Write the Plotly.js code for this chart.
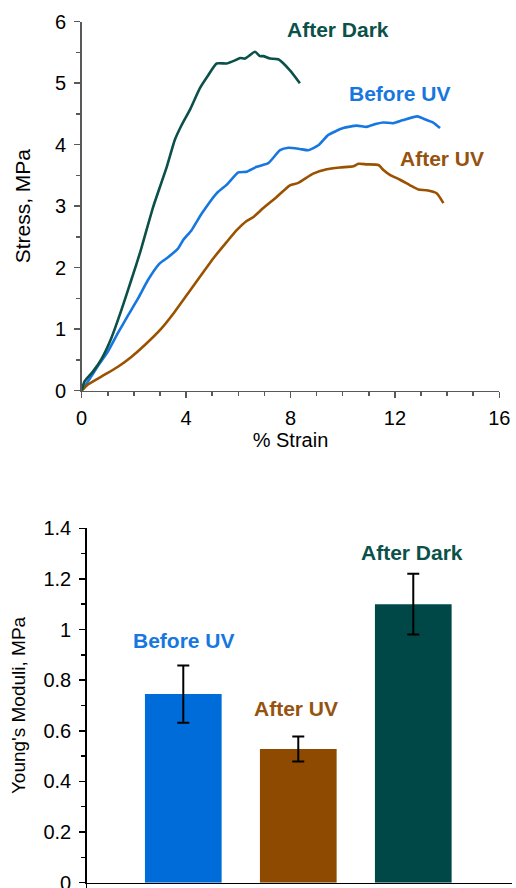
<!DOCTYPE html>
<html><head><meta charset="utf-8">
<script src="https://cdn.plot.ly/plotly-3.0.1.min.js"></script>
<style>html,body{margin:0;padding:0;background:#fff}#chart{width:516px;height:888px}</style>
</head><body><div id="chart"></div>
<script>
// Stress-strain curves
const darkStrain  = [0, 0.11, 0.43, 0.75, 1.13, 1.52, 1.90, 2.24, 2.74, 3.26, 3.57, 3.83, 4.15, 4.53, 4.85, 5.17, 5.56, 5.87, 6.07, 6.26, 6.64, 6.83, 6.96, 7.21, 7.53, 7.98, 8.36];
const darkStress  = [0, 0.15, 0.31, 0.51, 0.85, 1.31, 1.80, 2.25, 2.99, 3.64, 4.08, 4.32, 4.57, 4.92, 5.13, 5.32, 5.32, 5.37, 5.41, 5.40, 5.51, 5.44, 5.44, 5.40, 5.39, 5.21, 5.00];
const blueStrain  = [0, 0.24, 0.62, 1.01, 1.39, 1.77, 2.16, 2.54, 2.99, 3.31, 3.69, 3.89, 4.21, 4.60, 5.17, 5.56, 6.00, 6.32, 6.70, 7.15, 7.60, 7.92, 8.36, 8.68, 9.07, 9.45, 10.02, 10.54, 10.92, 11.30, 11.56, 11.94, 12.32, 12.86, 13.22, 13.47, 13.73];
const blueStress  = [0, 0.15, 0.40, 0.64, 0.94, 1.22, 1.50, 1.80, 2.07, 2.17, 2.31, 2.45, 2.61, 2.88, 3.21, 3.35, 3.55, 3.56, 3.64, 3.70, 3.91, 3.95, 3.93, 3.91, 3.99, 4.16, 4.27, 4.31, 4.29, 4.34, 4.36, 4.35, 4.40, 4.46, 4.40, 4.36, 4.27];
const brownStrain = [0, 0.24, 0.88, 1.39, 1.90, 2.41, 3.05, 3.56, 4.07, 4.58, 5.04, 5.56, 5.94, 6.32, 6.57, 6.96, 7.47, 7.98, 8.30, 8.87, 9.39, 9.90, 10.41, 10.60, 10.92, 11.37, 11.56, 11.81, 12.20, 12.58, 12.90, 13.22, 13.60, 13.86];
const brownStress = [0, 0.10, 0.26, 0.39, 0.55, 0.74, 1.01, 1.28, 1.58, 1.88, 2.15, 2.42, 2.61, 2.76, 2.82, 2.97, 3.15, 3.34, 3.38, 3.53, 3.60, 3.63, 3.65, 3.69, 3.68, 3.67, 3.59, 3.51, 3.43, 3.34, 3.27, 3.26, 3.21, 3.05];

// Young's moduli
const groups = ["Before UV", "After UV", "After Dark"];
const moduli = [0.745, 0.528, 1.10];
const moduliErr = [0.113, 0.049, 0.12];

// tick labels
const strainTicks = [0, 4, 8, 12, 16];
const stressTicks = [0, 1, 2, 3, 4, 5, 6];
const moduliTicks = [0, 0.2, 0.4, 0.6, 0.8, 1, 1.2, 1.4];

const cDark = '#0b5149', cBlue = '#1777e0', cBrown = '#9a5200';
const barColors = ['#006cd9', '#8e4a00', '#004848'];
const axGray = '#595959';
const FONT = 'Liberation Sans, Arial, sans-serif';

const lineStyle = c => ({color: c, width: 2.6, shape: 'spline', smoothing: 0.5});

const traces = [
  {x: blueStrain, y: blueStress, mode: 'lines', line: lineStyle(cBlue), xaxis: 'x', yaxis: 'y', name: 'Before UV'},
  {x: brownStrain, y: brownStress, mode: 'lines', line: lineStyle(cBrown), xaxis: 'x', yaxis: 'y', name: 'After UV'},
  {x: darkStrain, y: darkStress, mode: 'lines', line: lineStyle(cDark), xaxis: 'x', yaxis: 'y', name: 'After Dark'},
  {x: [0, 1, 2], y: moduli, type: 'bar', width: 0.667, marker: {color: barColors},
   error_y: {type: 'data', array: moduliErr, visible: true, color: '#000', thickness: 2, width: 6},
   xaxis: 'x2', yaxis: 'y2', name: 'Moduli', hovertext: groups}
];

function axBase(color) {
  return {
    showline: true, linecolor: color, linewidth: 1.5, mirror: false,
    ticks: 'outside', ticklen: 6, tickwidth: 1.5, tickcolor: color,
    showgrid: false, zeroline: false, automargin: false,
    ticklabeloverflow: 'allow', ticklabelstandoff: 4,
    tickfont: {family: FONT, size: 20, color: '#000'}
  };
}

const layout = {
  width: 516, height: 888,
  margin: {l: 0, r: 0, t: 0, b: 0},
  paper_bgcolor: '#fff', plot_bgcolor: '#fff',
  showlegend: false,
  font: {family: FONT, color: '#000'},
  xaxis: Object.assign(axBase(axGray), {
    domain: [0.1583, 0.9676], range: [0, 16], anchor: 'y',
    tickvals: strainTicks, ticktext: strainTicks.map(String),
    ticklabelstandoff: 3,
    minor: {ticks: 'outside', ticklen: 4, dtick: 1, tick0: 0, tickcolor: axGray, tickwidth: 1.5, showgrid: false},
    title: {text: '% Strain', font: {family: FONT, size: 20, color: '#000'}, standoff: 0}
  }),
  yaxis: Object.assign(axBase(axGray), {
    domain: [0.5600, 0.9756], range: [0, 6], anchor: 'x',
    tickvals: stressTicks, ticktext: stressTicks.map(String),
    minor: {ticks: 'outside', ticklen: 4, dtick: 0.5, tick0: 0, tickcolor: axGray, tickwidth: 1.5, showgrid: false},
    title: {text: 'Stress, MPa', font: {family: FONT, size: 21, color: '#000'}, standoff: 18}
  }),
  xaxis2: Object.assign(axBase('#000'), {
    domain: [0.1680, 0.9917], range: [-0.84, 2.856], anchor: 'y2',
    showticklabels: false, tickvals: [-0.84], ticklen: 6
  }),
  yaxis2: Object.assign(axBase('#000'), {
    domain: [0.0060, 0.4051], range: [0, 1.4], anchor: 'x2',
    tickvals: moduliTicks, ticktext: moduliTicks.map(String),
    minor: {ticks: 'outside', ticklen: 4, dtick: 0.1, tick0: 0, tickcolor: '#000', tickwidth: 1.5, showgrid: false},
    title: {text: "Young's Moduli, MPa", font: {family: FONT, size: 19, color: '#000'}, standoff: 12}
  }),
  annotations: [
    {xref: 'x', yref: 'y', x: 9.82, y: 5.865, text: '<b>After Dark</b>', showarrow: false, font: {family: FONT, size: 21, color: cDark}},
    {xref: 'x', yref: 'y', x: 12.18, y: 4.84, text: '<b>Before UV</b>', showarrow: false, font: {family: FONT, size: 21, color: cBlue}},
    {xref: 'x', yref: 'y', x: 13.82, y: 3.78, text: '<b>After UV</b>', showarrow: false, font: {family: FONT, size: 21, color: '#96520f'}},
    {xref: 'x2', yref: 'y2', x: 0.005, y: 0.955, text: '<b>Before UV</b>', showarrow: false, font: {family: FONT, size: 21, color: cBlue}},
    {xref: 'x2', yref: 'y2', x: 0.98, y: 0.69, text: '<b>After UV</b>', showarrow: false, font: {family: FONT, size: 21, color: '#96520f'}},
    {xref: 'x2', yref: 'y2', x: 1.99, y: 1.303, text: '<b>After Dark</b>', showarrow: false, font: {family: FONT, size: 21, color: cDark}}
  ]
};

Plotly.newPlot('chart', traces, layout, {staticPlot: true, displayModeBar: false});
</script>
</body></html>
